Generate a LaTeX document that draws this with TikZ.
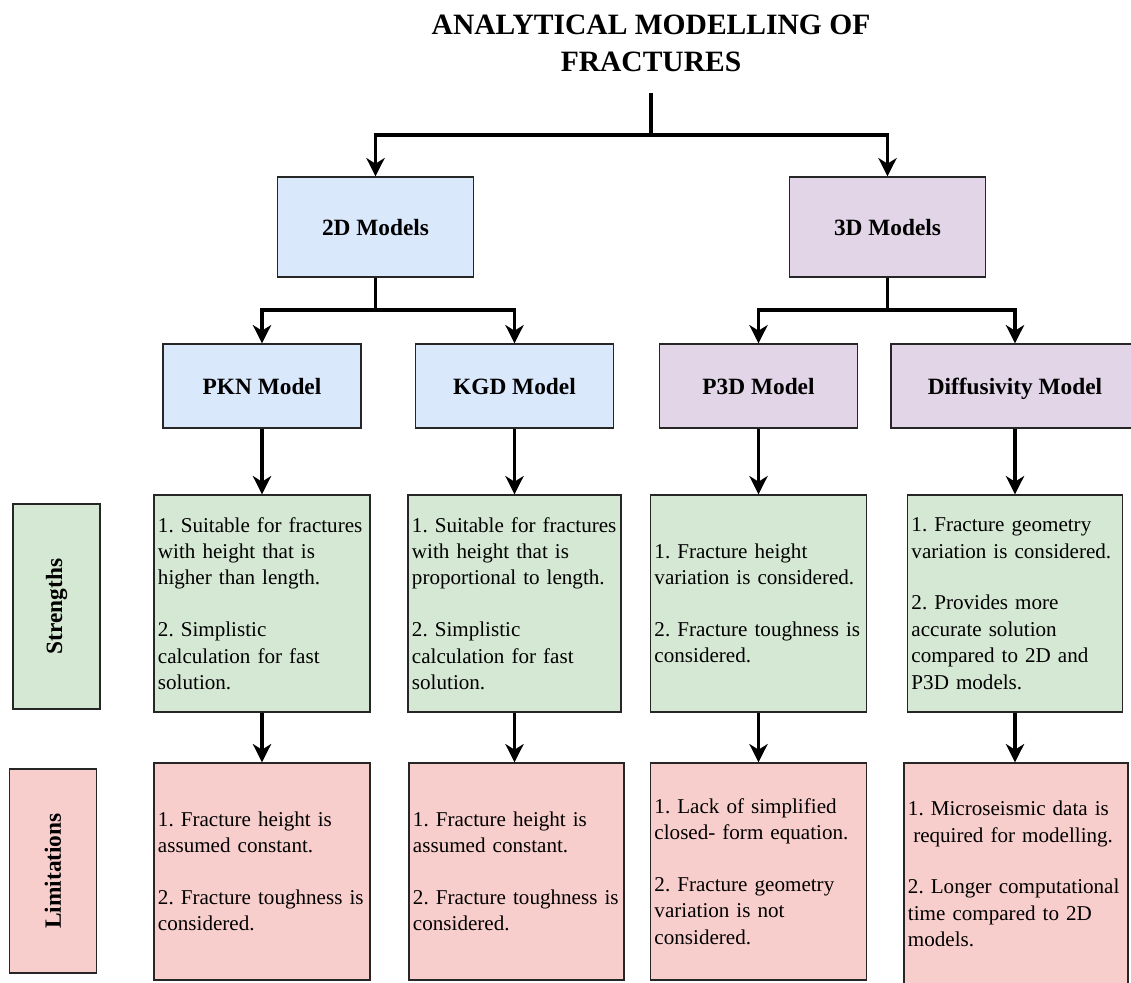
\documentclass[tikz,border=0pt]{standalone}
\usepackage{fontspec}
\setmainfont{Liberation Serif}
\usepackage{tikz}
\usetikzlibrary{
  arrows.meta,  % Stealth heads on the connectors
  calc          % Coordinate math
}

% Fills of the boxes
\definecolor{twoDfill}{HTML}{DAE8FC}
\definecolor{threeDfill}{HTML}{E1D5E7}
\definecolor{plusfill}{HTML}{D5E8D4}
\definecolor{minusfill}{HTML}{F8CECC}

\newcommand{\titlefont}{\fontsize{21}{26.3}\selectfont\bfseries}
\newcommand{\headfont}{\fontsize{16.6}{20}\selectfont\bfseries}
\newcommand{\bodyfont}{\fontsize{15}{18.8}\selectfont\frenchspacing}

\tikzset{
  box/.style={draw=black!85, line width=0.9pt, inner sep=0pt},
  family/.style={box, font=\headfont, minimum width=4.9cm, minimum height=2.5cm,
    text depth=0pt},
  model/.style={box, font=\headfont, minimum width=4.95cm, minimum height=2.1cm,
    text depth=0pt},
  side/.style={box, font=\headfont, rotate=90, minimum height=2.18cm},
  note/.style={box, font=\bodyfont, align=left, inner xsep=0.1cm,
    text width=5.2cm, minimum height=5.425cm},
  link/.style={line width=2.5pt, black},
  arrow/.style={link, -{Stealth[length=13pt, width=13pt, inset=4pt]}}
}

\begin{document}
\begin{tikzpicture}[x=0.025cm, y=-0.025cm]
        \useasboundingbox (0,0) rectangle (1131,983);

        % Title
        \node[font=\titlefont, align=center] (title) at (651,43)
          {ANALYTICAL MODELLING OF\\FRACTURES};
        \coordinate (root) at (651,93);
        \coordinate (fork) at (651,135);

        % 2D / 3D families
        \node[family, fill=twoDfill] (twoD) at (375.5,227) {2D Models};
        \node[family, fill=threeDfill] (threeD) at (887.5,227) {3D Models};

        % Models
        \node[model, fill=twoDfill] (pkn) at (262,386) {PKN Model};
        \node[model, fill=twoDfill] (kgd) at (514.5,386) {KGD Model};
        \node[model, fill=threeDfill] (ptd) at (758.5,386) {P3D Model};
        \node[model, fill=threeDfill, minimum width=6.2cm] (diff) at (1015,386) {Diffusivity Model};

        % Row labels
        \node[side, fill=plusfill, minimum width=5.125cm] (strengths) at (56.5,606.5) {Strengths};
        \node[side, fill=minusfill, minimum width=5.1cm] (limits) at (53,871) {Limitations};

        % Strengths
        \node[note, fill=plusfill] (pknS) at (262,603.5)
          {1. Suitable for fractures\\with height that is\\higher than length.\\[18pt]
           2. Simplistic\\calculation for fast\\solution.};
        \node[note, fill=plusfill, text width=5.125cm] (kgdS) at (514.5,603.5)
          {1. Suitable for fractures\\with height that is\\proportional to length.\\[18pt]
           2. Simplistic\\calculation for fast\\solution.};
        \node[note, fill=plusfill] (ptdS) at (758.5,603.5)
          {1. Fracture height\\variation is considered.\\[18pt]
           2. Fracture toughness is\\considered.};
        \node[note, fill=plusfill, text width=5.175cm] (diffS) at (1015,603.5)
          {1. Fracture geometry\\variation is considered.\\[18pt]
           2. Provides more\\accurate solution\\compared to 2D and\\P3D models.};

        % Limitations
        \node[note, fill=minusfill] (pknL) at (262,871.5)
          {1. Fracture height is\\assumed constant.\\[18pt]
           2. Fracture toughness is\\considered.};
        \node[note, fill=minusfill, text width=5.175cm] (kgdL) at (516.5,871.5)
          {1. Fracture height is\\assumed constant.\\[18pt]
           2. Fracture toughness is\\considered.};
        \node[note, fill=minusfill] (ptdL) at (758.5,871.5)
          {1. Lack of simplified\\closed- form equation.\\[18pt]
           2. Fracture geometry\\variation is not\\considered.};
        \node[note, fill=minusfill, text width=5.4cm, minimum height=5.55cm] (diffL) at (1016,874)
          {1. Microseismic data is\\\hspace{0.25em}required for modelling.\\[18pt]
           2. Longer computational\\time compared to 2D\\models.};

        % Tree connectors
        \draw[link] (root) -- (fork);
        \draw[arrow] (fork) -| (twoD);
        \draw[arrow] (fork) -| (threeD);
        \draw[link] (twoD) -- ++(0,83) coordinate (twoFork);
        \draw[arrow] (twoFork) -| (pkn);
        \draw[arrow] (twoFork) -| (kgd);
        \draw[link] (threeD) -- ++(0,83) coordinate (threeFork);
        \draw[arrow] (threeFork) -| (ptd);
        \draw[arrow] (threeFork) -| (diff);

        % Model -> strengths -> limitations
        \foreach \m in {pkn, kgd, ptd, diff} {
          \draw[arrow] (\m) -- (\m |- \m S.north);
          \draw[arrow] (\m S.south -| \m) -- (\m |- \m L.north);
        }
    \end{tikzpicture}
\end{document}
